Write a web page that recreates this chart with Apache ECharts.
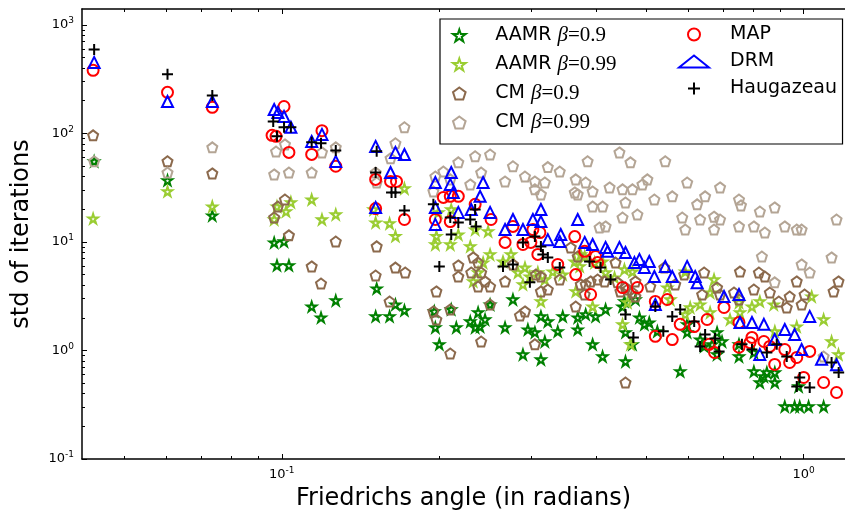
<!DOCTYPE html>
<html>
<head>
<meta charset="utf-8">
<script src="https://cdn.jsdelivr.net/npm/echarts@6/dist/echarts.min.js"></script>
<style>
html,body{margin:0;padding:0;background:#fff;}
#main{width:845px;height:518px;}
</style>
</head>
<body>
<div id="main"></div>
<script>
// axis ranges and ticks
const xMin = 0.04142, xMax = 1.2;
const yMin = 0.1, yMax = 1400;
const xMajor = [0.1, 1];
const xMinor = [0.05, 0.06, 0.07, 0.08, 0.09, 0.2, 0.3, 0.4, 0.5, 0.6, 0.7, 0.8, 0.9];
const yMajor = [0.1, 1, 10, 100, 1000];
const yMinor = [0.2, 0.3, 0.4, 0.5, 0.6, 0.7, 0.8, 0.9, 2, 3, 4, 5, 6, 7, 8, 9,
  20, 30, 40, 50, 60, 70, 80, 90, 200, 300, 400, 500, 600, 700, 800, 900];

// [Friedrichs angle, std of iterations]
const aamr09 = [
  [0.0437,55.3],[0.0604,36.9],[0.0736,17.5],[0.0967,9.87],[0.101,10.1],[0.0979,6.08],[0.1032,6.08],
  [0.1141,2.54],[0.1189,2.01],[0.1269,2.89],[0.152,3.72],[0.1513,2.06],[0.1609,2.06],[0.1651,2.65],[0.1718,2.34],
  [0.196,2.29],[0.2112,2.39],[0.1969,1.63],[0.216,1.63],[0.2004,1.14],[0.2297,1.85],[0.2378,2.24],[0.2399,1.66],
  [0.2452,1.93],[0.2507,2.65],[0.2347,1.63],[0.2678,1.63],[0.2773,2.95],[0.2962,1.56],[0.3055,1.47],[0.2898,0.919],
  [0.3137,0.826],[0.3192,1.21],[0.3137,2.06],[0.3234,1.85],[0.3379,1.5],[0.3454,2.06],[0.369,2.01],[0.369,1.56],
  [0.3822,2.15],[0.3993,2.06],[0.4173,2.39],[0.3941,1.14],[0.4118,0.88],[0.4556,0.792],[0.4698,1.14],[0.4845,2.01],
  [0.4952,1.74],[0.4556,1.47],[0.4497,2.54],[0.4535,2.83],[0.476,2.95],[0.506,1.81],[0.5243,1.5],[0.58,0.641],
  [0.5981,1.74],[0.5981,1.47],[0.6333,1.26],[0.6446,1.09],[0.6676,1.14],[0.6824,0.919],[0.6976,1.21],[0.6824,1.47],
  [0.7517,1.14],[0.7517,0.88],[0.8028,0.641],[0.8243,0.507],[0.8501,0.627],[0.8805,0.627],[0.8805,0.507],[0.839,0.576],
  [0.8028,0.958],[0.978,0.466],[0.92,0.305],[0.961,0.305],[0.9826,0.305],[1.022,0.305],[1.092,0.305]
];
const aamr099 = [
  [0.0435,16.4],[0.0604,29.2],[0.0736,21.2],[0.0967,16.1],[0.0979,21.2],[0.1019,19.1],[0.1041,23.2],
  [0.1141,24.6],[0.1194,16.1],[0.1269,17.9],[0.15,19.9],[0.1513,15.1],[0.1609,14.8],[0.1651,11.3],[0.1718,31.1],
  [0.1978,11.3],[0.2103,9.48],[0.2112,19.9],[0.1995,18.7],[0.1969,9.48],[0.2179,11.7],[0.2297,9.1],[0.2347,13],[0.2485,12.5],
  [0.2507,7.67],[0.2431,6.45],[0.2378,5.23],[0.2327,4.33],[0.2654,6.6],[0.2749,7.67],[0.2835,5.23],[0.2924,5.8],[0.2988,4.8],
  [0.3095,5.23],[0.2898,4.06],[0.3137,2.83],[0.3192,4.51],[0.3306,5.33],[0.3454,5.01],[0.3642,6.6],[0.3723,5.95],[0.374,7.67],
  [0.3806,7.35],[0.3658,3.5],[0.3975,6.45],[0.3941,2.54],[0.4118,6.6],[0.4173,5.23],[0.4341,4.7],[0.4535,5.58],[0.4698,5.33],
  [0.4596,2.77],[0.4497,1.74],[0.4657,1.14],[0.5478,3.8],[0.5551,2.95],[0.593,5.33],[0.593,2.15],[0.6061,2.49],[0.6333,2.65],
  [0.6618,2.24],[0.6734,4.51],[0.6618,3.42],[0.7225,1.93],[0.755,2.24],[0.7517,2.77],[0.796,2.54],[0.8243,2.83],[0.8764,2.65],
  [0.8805,1.5],[0.9697,1.66],[1.036,3.14],[1.092,1.93],[1.131,1.21],[1.166,0.919]
];
const cm09 = [
  [0.0435,95.9],[0.0604,55.3],[0.0736,42.8],[0.0967,16.8],[0.0983,21.2],[0.1014,24.6],[0.1032,11.5],
  [0.1269,10.1],[0.1141,5.95],[0.152,9.1],[0.1651,5.8],[0.1724,5.23],[0.1513,4.91],[0.1189,4.14],[0.1609,2.83],
  [0.1978,3.5],[0.1952,2.29],[0.1978,1.93],[0.2103,2.39],[0.2103,0.938],[0.2179,6.08],[0.2179,4.8],[0.241,1.21],
  [0.2327,7.2],[0.2378,6.45],[0.2307,5.23],[0.241,5.23],[0.2452,4.33],[0.2378,3.89],[0.2507,3.89],[0.2507,2.65],
  [0.2678,4.33],[0.2773,6.21],[0.2924,2.29],[0.286,2.1],[0.3055,1.14],[0.3137,4.8],[0.3068,5.0],[0.3234,3.65],
  [0.3137,3.5],[0.3409,4.51],[0.3578,8.9],[0.369,7.35],[0.374,4.06],[0.3658,2.54],[0.3806,3.28],[0.3822,4.06],
  [0.3906,4.33],[0.4029,4.51],[0.4155,4.33],[0.436,6.45],[0.4398,4.24],[0.4455,3.5],[0.4556,3.8],[0.4596,3.65],
  [0.4698,3.42],[0.476,3.14],[0.476,4.33],[0.4556,0.507],[0.5083,3.89],[0.5407,5.8],[0.5674,4.06],[0.5904,5.01],
  [0.6446,5.23],[0.6389,3.28],[0.6824,3.8],[0.6915,3.28],[0.7354,3.42],[0.7517,2.95],[0.755,5.33],[0.8207,5.23],
  [0.8426,4.8],[0.8028,3.65],[0.8614,3.42],[0.8961,2.83],[0.9281,2.49],[0.9402,3.14],[0.9697,4.33],[0.9912,2.65],
  [1.004,3.28],[1.141,3.5],[1.166,4.33]
];
const cm099 = [
  [0.0437,55.3],[0.0604,43.6],[0.0736,74.4],[0.0975,68.2],[0.1014,79.2],[0.0967,41.9],[0.1032,43.6],
  [0.1141,43.6],[0.1269,74.4],[0.1194,66.8],[0.1718,114],[0.1651,81.2],[0.1616,58.9],[0.1513,43.6],[0.152,35.3],
  [0.1969,40.1],[0.204,44.5],[0.2103,37.7],[0.1952,29.2],[0.2179,54.1],[0.2347,61.6],[0.2507,64],[0.241,43.6],[0.2297,33.9],
  [0.2678,36.1],[0.2773,49.8],[0.2924,40.1],[0.3055,36.1],[0.3234,48.9],[0.3409,44.5],[0.3137,27.4],[0.3192,35.3],[0.3055,30.5],
  [0.3658,37.7],[0.3642,28.6],[0.3855,55.3],[0.3822,35.3],[0.3941,29.2],[0.369,27.4],[0.3941,21.2],[0.4118,21.2],[0.4064,13.6],
  [0.4173,13.9],[0.4436,66.8],[0.4657,54.1],[0.4247,31.8],[0.4497,30.5],[0.4698,30.5],[0.4556,23.1],[0.4802,17.9],[0.4497,16.8],
  [0.4909,33.9],[0.5018,37.7],[0.5175,24.6],[0.543,55.3],[0.56,26.3],[0.5981,35.3],[0.625,22.2],[0.6474,26.3],[0.6915,31.8],
  [0.5852,16.8],[0.6333,16.1],[0.6734,17.1],[0.6915,16.1],[0.593,13],[0.6734,13],[0.7517,24.6],[0.7583,21.7],[0.8243,19.1],
  [0.88,20.8],[0.7517,13.9],[0.8028,13.9],[0.8426,12.2],[0.92,13.9],[0.97,13],[0.991,13],[1.156,16.1],[0.8316,7.34],
  [1.131,7.2],[0.991,6.21],[1.027,5.23],[0.88,4.24],[1.092,0.88]
];
const mapData = [
  [0.0435,381],[0.0604,239],[0.0736,174],[0.101,177],[0.0958,96],[0.0975,94],[0.1032,66.8],
  [0.1141,64],[0.1194,106],[0.1269,49.8],[0.1513,37.7],[0.1616,36.1],[0.1659,36.1],[0.1718,16.1],[0.1513,20.3],
  [0.204,25.7],[0.2103,26.3],[0.2179,26.3],[0.1969,16.1],[0.2103,15.4],[0.2347,22.2],[0.2518,16.1],
  [0.2678,9.9],[0.2773,13.9],[0.3001,9.9],[0.2898,9.48],[0.3028,13],[0.3123,12.2],[0.3095,7.67],[0.3379,6.21],
  [0.3642,11.2],[0.3806,8.2],[0.3993,7.35],[0.3658,5.0],[0.3906,3.28],[0.4029,6.45],[0.4497,3.8],[0.4802,3.8],
  [0.5197,2.83],[0.5197,1.35],[0.5478,2.95],[0.56,1.26],[0.58,1.74],[0.6169,1.66],[0.6531,1.93],[0.659,1.14],
  [0.6749,0.958],[0.7037,2.49],[0.7517,1.07],[0.7517,1.81],[0.789,1.18],[0.796,1.32],[0.839,1.21],[0.861,1.09],
  [0.88,0.743],[0.92,1.02],[0.94,0.775],[0.97,0.862],[1.0,0.564],[1.027,0.98],[1.092,0.507],[1.156,0.41]
];
const drmData = [
  [0.0437,451],[0.0604,197],[0.0736,197],[0.0967,166],[0.0983,156],[0.101,143],[0.1041,114],
  [0.1141,84.4],[0.1194,97.9],[0.1269,55.2],[0.1513,75.9],[0.1651,66.8],[0.1718,64],[0.1616,43.6],[0.1513,20.8],
  [0.1969,35.3],[0.2103,33.9],[0.1969,20.8],[0.1969,14.5],[0.2112,43.6],[0.2431,35.3],[0.2399,26.3],[0.2307,19.9],
  [0.2507,18.7],[0.2179,18.7],[0.2131,28.6],[0.2678,13],[0.2773,16.1],[0.2898,13],[0.3028,16.1],[0.3137,19.9],
  [0.3137,15.4],[0.3234,10.5],[0.3409,10.1],[0.3424,11.7],[0.369,16.1],[0.3806,9.9],[0.3941,9.48],[0.4173,8.9],
  [0.421,8.2],[0.4436,8.9],[0.4556,8.0],[0.474,6.45],[0.4845,6.9],[0.4952,5.8],[0.506,6.6],[0.5175,4.8],
  [0.5197,2.65],[0.543,5.95],[0.56,4.8],[0.598,5.95],[0.6196,4.8],[0.625,4.2],[0.7037,3.14],[0.7517,3.28],
  [0.755,1.81],[0.796,1.81],[0.839,1.74],[0.824,0.92],[0.88,1.26],[0.92,1.56],[0.961,1.4],[0.991,1.02],
  [1.027,2.06],[1.082,0.83],[1.156,0.74]
];
const haugData = [
  [0.0437,594],[0.0604,350],[0.0736,224],[0.0963,129],[0.0979,93.9],[0.101,114],[0.1041,114],
  [0.1141,82.9],[0.1189,81.2],[0.1269,69.7],[0.152,68.5],[0.1513,43.6],[0.1623,28.6],[0.1651,28.6],[0.1718,19.5],
  [0.1952,22.2],[0.2103,16.8],[0.2112,11.7],[0.2004,5.95],[0.2347,19.9],[0.2297,16.1],[0.2357,13.9],[0.2179,15.1],
  [0.2654,5.95],[0.2773,6.21],[0.2898,9.9],[0.3055,11.2],[0.3137,9.1],[0.3164,7.67],[0.3234,7.2],[0.3409,5.8],
  [0.2988,4.24],[0.3889,6.6],[0.4082,5.8],[0.4266,4.51],[0.4556,2.15],[0.4718,1.32],[0.5197,2.54],[0.56,2.06],
  [0.5383,1.5],[0.58,2.39],[0.6169,1.85],[0.6474,1.4],[0.6764,1.29],[0.6333,1.09],[0.6886,0.98],[0.7616,1.14],
  [0.796,1.02],[0.85,0.958],[0.888,1.14],[0.928,0.88],[0.9826,0.564],[1.027,0.456],[0.97,0.466],[1.131,0.775],
  [1.167,0.627]
];

const STAR = 'path://M100,0L122.45,69.1L195.11,69.1L136.33,111.8L158.78,180.9L100,138.2L41.22,180.9L63.67,111.8L4.89,69.1L77.55,69.1Z';
const PENT = 'path://M100,0L195.11,69.1L158.78,180.9L41.22,180.9L4.89,69.1Z';
const PLUS = 'path://M0,50L100,50M50,0L50,100';

const legendRich = {
  t: {fontFamily: 'DejaVu Sans', fontSize: 19, lineHeight: 22, color: '#000', padding: [0, 0, 0, 16]},
  b: {fontFamily: 'Liberation Serif', fontStyle: 'italic', fontSize: 21, lineHeight: 22, color: '#000'},
  m: {fontFamily: 'Liberation Serif', fontSize: 21, lineHeight: 22, color: '#000'}
};
function legendFmt(name) {
  const i = name.indexOf(' β');
  if (i < 0) return '{t|' + name + '}';
  return '{t|' + name.slice(0, i) + ' }{b|β}{m|' + name.slice(i + 2) + '}';
}

const tickRich = {
  b: {fontFamily: 'DejaVu Sans', fontSize: 13, lineHeight: 17, color: '#000'},
  e: {fontFamily: 'DejaVu Sans', fontSize: 9, lineHeight: 9, color: '#000', verticalAlign: 'top'}
};
function tickFmt(v) {
  const e = Math.round(Math.log10(v));
  return '{b|10}{e|' + e + '}';
}

function scat(name, data, symbol, size, color) {
  return {
    name: name, type: 'scatter', data: data, symbol: symbol, symbolSize: size,
    xAxisIndex: 0, yAxisIndex: 0, clip: true,
    itemStyle: {color: 'rgba(0,0,0,0)', borderColor: color, borderWidth: 2, opacity: 1},
    emphasis: {disabled: true}
  };
}

function tickAxis(extra) {
  return Object.assign({
    type: 'log', logBase: 10,
    axisLine: {show: false},
    axisLabel: {show: false},
    splitLine: {show: false}
  }, extra);
}

const chart = echarts.init(document.getElementById('main'));
chart.setOption({
  animation: false,
  backgroundColor: '#fff',
  grid: [
    {left: 82, right: -3.5, top: 9, bottom: 59},
    {left: 82, right: -3.5, top: 9, bottom: 59}
  ],
  xAxis: [
    {
      type: 'log', logBase: 10, gridIndex: 0, position: 'bottom', min: xMin, max: xMax,
      axisLine: {show: true, onZero: false, lineStyle: {color: '#000', width: 1.5}},
      axisTick: {show: true, inside: true, length: 5, customValues: xMajor, lineStyle: {color: '#000', width: 1}},
      axisLabel: {show: true, customValues: xMajor, margin: 7, formatter: tickFmt, rich: tickRich},
      splitLine: {show: false},
      name: 'Friedrichs angle (in radians)', nameLocation: 'middle', nameGap: 28,
      nameTextStyle: {fontFamily: 'DejaVu Sans', fontSize: 24, color: '#000'}
    },
    {
      type: 'log', logBase: 10, gridIndex: 0, position: 'top', min: xMin, max: xMax,
      axisLine: {show: true, onZero: false, lineStyle: {color: '#000', width: 1.5}},
      axisTick: {show: true, inside: true, length: 5, customValues: xMajor, lineStyle: {color: '#000', width: 1}},
      axisLabel: {show: false}, splitLine: {show: false}
    },
    tickAxis({gridIndex: 1, position: 'bottom', min: xMin, max: xMax,
      axisTick: {show: true, inside: true, length: 3, customValues: xMinor, lineStyle: {color: '#000', width: 1}}}),
    tickAxis({gridIndex: 1, position: 'top', min: xMin, max: xMax,
      axisTick: {show: true, inside: true, length: 3, customValues: xMinor, lineStyle: {color: '#000', width: 1}}})
  ],
  yAxis: [
    {
      type: 'log', logBase: 10, gridIndex: 0, position: 'left', min: yMin, max: yMax,
      axisLine: {show: true, onZero: false, lineStyle: {color: '#000', width: 1.5}},
      axisTick: {show: true, inside: true, length: 5, customValues: yMajor, lineStyle: {color: '#000', width: 1}},
      axisLabel: {show: true, customValues: yMajor, margin: 8, formatter: tickFmt, rich: tickRich},
      splitLine: {show: false},
      name: 'std of iterations', nameLocation: 'middle', nameGap: 48,
      nameTextStyle: {fontFamily: 'DejaVu Sans', fontSize: 24, color: '#000'}
    },
    tickAxis({gridIndex: 1, position: 'left', min: yMin, max: yMax,
      axisTick: {show: true, inside: true, length: 3, customValues: yMinor, lineStyle: {color: '#000', width: 1}}})
  ],
  legend: [
    {
      data: ['AAMR β=0.9', 'AAMR β=0.99', 'CM β=0.9', 'CM β=0.99'],
      orient: 'vertical', left: 440, top: 19, padding: [6, 226, 11, 12],
      itemGap: 8, itemWidth: 30, itemHeight: 12, selectedMode: false,
      borderColor: '#000', borderWidth: 1.2, borderRadius: 0, backgroundColor: '#fff',
      formatter: legendFmt, textStyle: {rich: legendRich}
    },
    {
      data: ['MAP', 'DRM', 'Haugazeau'],
      orient: 'vertical', left: 678, top: 25, padding: 0,
      itemGap: 8, itemWidth: 30, itemHeight: 12, selectedMode: false,
      formatter: legendFmt, textStyle: {rich: legendRich}
    }
  ],
  series: [
    scat('AAMR β=0.9', aamr09, STAR, 9.5, '#008000'),
    scat('AAMR β=0.99', aamr099, STAR, 9.5, '#9acd32'),
    scat('CM β=0.9', cm09, PENT, 10, '#8c6a4d'),
    scat('CM β=0.99', cm099, PENT, 10, '#b4a595'),
    scat('MAP', mapData, 'circle', 11, '#ff0000'),
    scat('DRM', drmData, 'triangle', 11, '#0000ff'),
    scat('Haugazeau', haugData, PLUS, 11, '#000000')
  ]
});
</script>
</body>
</html>
